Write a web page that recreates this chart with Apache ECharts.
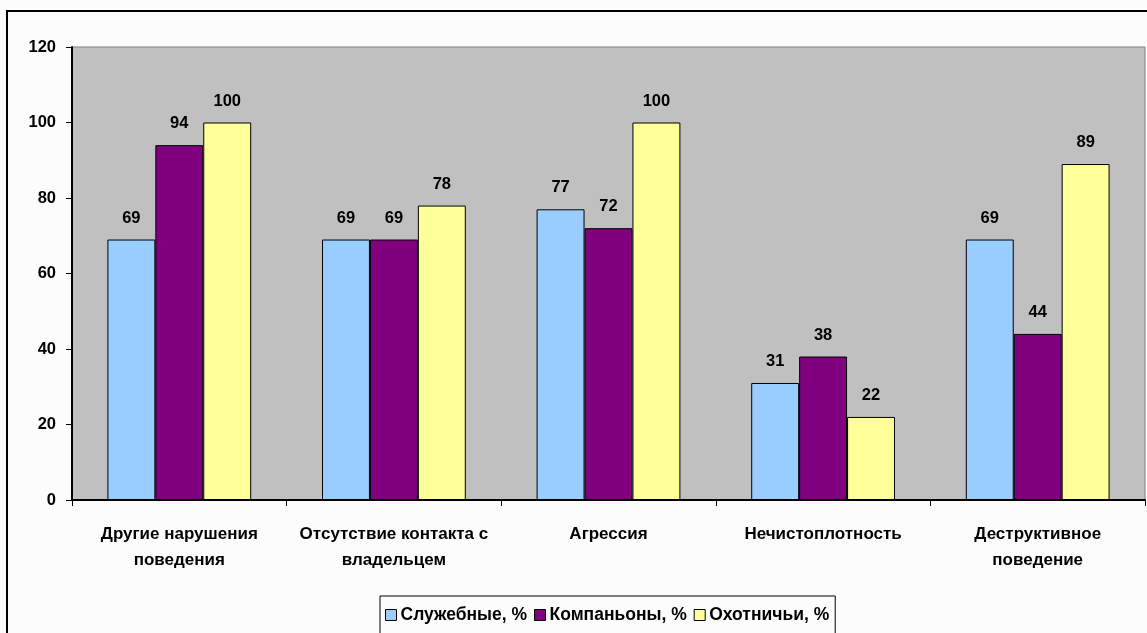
<!DOCTYPE html>
<html>
<head>
<meta charset="utf-8">
<script src="https://cdn.jsdelivr.net/npm/echarts@6/dist/echarts.min.js"></script>
<style>
  html, body { margin: 0; padding: 0; background: #FCFCFC; }
  #chart { width: 1147px; height: 633px; }
</style>
</head>
<body>
<div id="chart"></div>
<script>
// Behaviour problems by dog group, percent
const categories = [
  'Другие нарушения\nповедения',
  'Отсутствие контакта с\nвладельцем',
  'Агрессия',
  'Нечистоплотность',
  'Деструктивное\nповедение'
];
const seriesNames = ['Служебные, %', 'Компаньоны, %', 'Охотничьи, %'];
const service = [69, 69, 77, 31, 69];
const companion = [94, 69, 72, 38, 44];
const hunting = [100, 78, 100, 22, 89];
const yTicks = { min: 0, max: 120, interval: 20 };

const colors = ['#99CCFF', '#800080', '#FFFF99'];
const font = '"Liberation Sans", Arial, sans-serif';

const chart = echarts.init(document.getElementById('chart'), null, { renderer: 'canvas' });

const values = [service, companion, hunting];
const series = values.map((data, i) => ({
  name: seriesNames[i],
  type: 'bar',
  data: data,
  barGap: '0%',
  barCategoryGap: '33%',
  itemStyle: { color: colors[i], borderColor: '#000', borderWidth: 1 },
  label: {
    show: true,
    position: 'top',
    distance: 13,
    color: '#000',
    fontFamily: font,
    fontWeight: 'bold',
    fontSize: 16.5
  }
}));

chart.setOption({
  backgroundColor: '#FCFCFC',
  animation: false,
  graphic: [{
    type: 'rect',
    shape: { x: 7, y: 11, width: 1160, height: 640 },
    style: { fill: 'none', stroke: '#000', lineWidth: 2 },
    silent: true,
    z: -1
  }],
  grid: {
    left: 72, top: 47, right: 2, bottom: 133,
    show: true,
    backgroundColor: '#C0C0C0',
    borderColor: '#808080',
    borderWidth: 1
  },
  legend: {
    data: seriesNames,
    left: 380,
    top: 596,
    orient: 'horizontal',
    itemWidth: 11,
    itemHeight: 11,
    itemGap: 7,
    icon: 'rect',
    padding: [10, 6, 20, 5],
    borderColor: '#000',
    borderWidth: 1,
    backgroundColor: '#FCFCFC',
    itemStyle: { borderColor: '#000', borderWidth: 1 },
    textStyle: {
      color: '#000',
      fontFamily: font,
      fontWeight: 'bold',
      fontSize: 17.5,
      padding: [0, 0, 0, -1]
    }
  },
  xAxis: {
    type: 'category',
    data: categories,
    axisLine: { lineStyle: { color: '#000', width: 2 } },
    axisTick: { show: true, length: 6, alignWithLabel: false, lineStyle: { color: '#000', width: 1 } },
    axisLabel: {
      interval: 0,
      margin: 21,
      color: '#000',
      fontFamily: font,
      fontWeight: 'bold',
      fontSize: 17,
      lineHeight: 26
    },
    splitLine: { show: false }
  },
  yAxis: {
    type: 'value',
    min: yTicks.min,
    max: yTicks.max,
    interval: yTicks.interval,
    axisLine: { show: true, lineStyle: { color: '#000', width: 2 } },
    axisTick: { show: true, length: 6, lineStyle: { color: '#000', width: 1 } },
    axisLabel: {
      margin: 16,
      color: '#000',
      fontFamily: font,
      fontWeight: 'bold',
      fontSize: 16.5
    },
    splitLine: { show: false }
  },
  series: series
});
</script>
</body>
</html>
